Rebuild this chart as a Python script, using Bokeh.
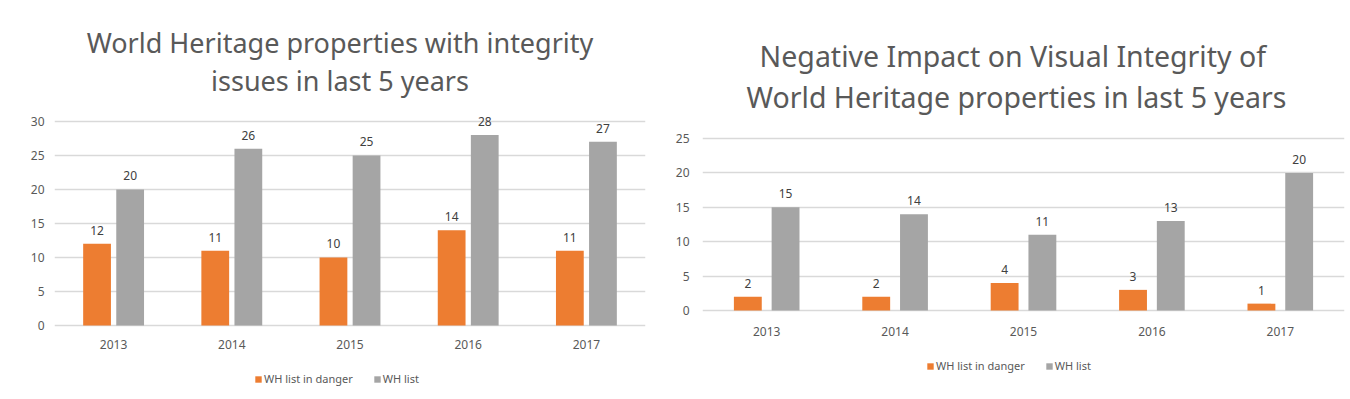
from bokeh.plotting import figure
from bokeh.models import ColumnDataSource, FactorRange, Range1d, FixedTicker, Legend, LegendItem
from bokeh.transform import dodge
from bokeh.layouts import row
from bokeh.core.properties import value
from bokeh.embed import file_html
from bokeh.resources import INLINE

years = ["2013", "2014", "2015", "2016", "2017"]
left_danger = [12, 11, 10, 14, 11]
left_list = [20, 26, 25, 28, 27]
right_danger = [2, 2, 4, 3, 1]
right_list = [15, 14, 11, 13, 20]
series_names = ["WH list in danger", "WH list"]
left_title = ["World Heritage properties with integrity", "issues in last 5 years"]
right_title = ["Negative Impact  on Visual Integrity of", "World Heritage properties in last 5 years"]
left_ticks = [0, 5, 10, 15, 20, 25, 30]
right_ticks = [0, 5, 10, 15, 20, 25]

ORANGE = "#ED7D31"
GRAY = "#A5A5A5"
FONT = "Noto Sans"
TXT = "#595959"
H = 398


def make_chart(danger, lst, titles, ticks, yr, width, bl, br, off, bw, tsize,
               baselines, tdx, ystand, year_off, legloc):
    src = ColumnDataSource(dict(x=years, zero=[0] * len(years), d=danger, l=lst,
                                dt=[str(v) for v in danger], lt=[str(v) for v in lst]))
    p = figure(x_range=FactorRange(factors=years), y_range=Range1d(*yr),
               width=width, height=H, output_backend="svg", toolbar_location=None,
               x_axis_location=None, min_border_left=bl, min_border_right=br,
               min_border_top=0, min_border_bottom=0)
    p.title.visible = False
    p.outline_line_color = None
    r1 = p.vbar(x=dodge("x", -off, range=p.x_range), top="d", width=bw, source=src,
                fill_color=ORANGE, line_color=None)
    r2 = p.vbar(x=dodge("x", off, range=p.x_range), top="l", width=bw, source=src,
                fill_color=GRAY, line_color=None)
    for col, ycol, o in (("dt", "d", -off), ("lt", "l", off)):
        p.text(x=dodge("x", o, range=p.x_range), y=ycol, text=col, source=src,
               text_align="center", text_baseline="bottom", y_offset=-9,
               text_font=value(FONT), text_font_size="12px", text_color="#404040")
    # category labels under the zero line
    p.text(x="x", y="zero", text="x", source=src, text_align="center",
           text_baseline="middle", y_offset=year_off,
           text_font=value(FONT), text_font_size="12px", text_color=TXT)
    # two-line chart title, centred over the plot, measured from its top edge
    tsrc = ColumnDataSource(dict(text=titles, x=[years[2]] * len(titles),
                                 y=[yr[1]] * len(titles), dy=baselines))
    p.text(x="x", y="y", text="text", source=tsrc, x_offset=tdx, y_offset="dy",
           text_align="center", text_baseline="alphabetic",
           text_font=value(FONT), text_font_size=tsize, text_color=TXT)
    p.xgrid.grid_line_color = None
    p.ygrid.grid_line_color = "#D9D9D9"
    p.ygrid.grid_line_width = 1.5
    ax = p.yaxis[0]
    ax.ticker = FixedTicker(ticks=ticks)
    ax.axis_line_color = None
    ax.major_tick_line_color = None
    ax.minor_tick_line_color = None
    ax.major_tick_out = 0
    ax.major_tick_in = 0
    ax.major_label_text_font = FONT
    ax.major_label_text_font_size = "12px"
    ax.major_label_text_color = TXT
    ax.major_label_standoff = ystand
    leg = Legend(items=[LegendItem(label=series_names[0], renderers=[r1]),
                        LegendItem(label=series_names[1], renderers=[r2])],
                 orientation="horizontal", location=legloc,
                 glyph_width=8, glyph_height=8, label_standoff=2, spacing=20,
                 label_text_font=FONT, label_text_font_size="11px", label_text_color=TXT,
                 border_line_color=None, background_fill_alpha=0, padding=4)
    p.add_layout(leg)
    return p


p1 = make_chart(left_danger, left_list, left_title, left_ticks, (-10.74, 47.79), 672, 54, 27,
                0.14, 0.235, "27px", [42, 80], -10, 10, 19, (200, 12))
p2 = make_chart(right_danger, right_list, right_title, right_ticks, (-12.79, 45.06), 678, 28, 6,
                0.147, 0.217, "28.5px", [55, 96], -7, 13, 21, (224, 25))

layout = row(p1, p2)
open("out.html", "w").write(file_html(layout, INLINE))
